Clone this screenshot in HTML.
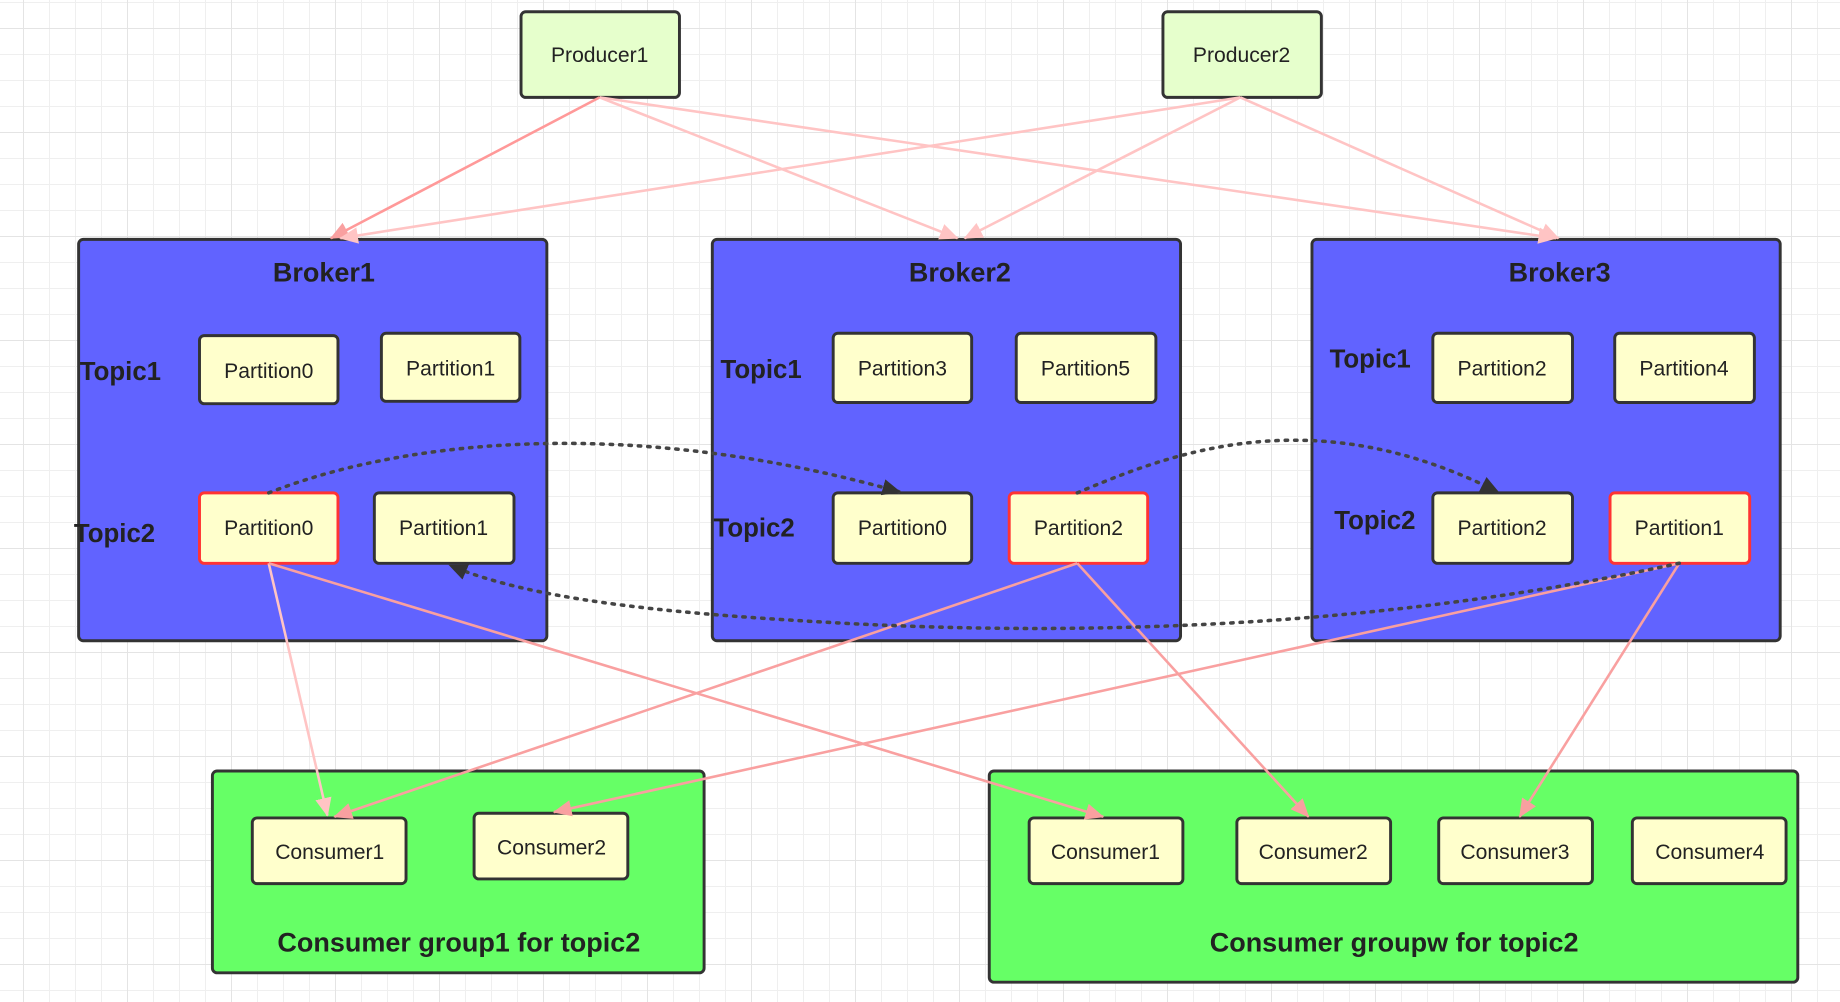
<!DOCTYPE html>
<html><head><meta charset="utf-8"><style>
html,body{margin:0;padding:0;background:#fff;}
svg{display:block;}
text{font-family:"Liberation Sans",sans-serif;fill:#222;}
</style></head><body>
<svg width="1840" height="1002" viewBox="0 0 1840 1002" xmlns="http://www.w3.org/2000/svg">
<defs>
<pattern id="g" x="23" y="2" width="26" height="26" patternUnits="userSpaceOnUse">
<path d="M0 0H26M0 0V26" stroke="#efefef" stroke-width="2" fill="none"/>
</pattern>
<pattern id="G" x="23" y="28" width="104" height="104" patternUnits="userSpaceOnUse">
<path d="M0 0H104M0 0V104" stroke="#e4e4e4" stroke-width="2" fill="none"/>
</pattern>
<marker id="ap" markerWidth="16" markerHeight="14" refX="15" refY="7" orient="auto" markerUnits="userSpaceOnUse" viewBox="0 0 16 14"><path d="M0 0L16 7L0 14z" fill="#f9a0a0"/></marker>
<marker id="al" markerWidth="16" markerHeight="14" refX="15" refY="7" orient="auto" markerUnits="userSpaceOnUse" viewBox="0 0 16 14"><path d="M0 0L16 7L0 14z" fill="#ffc4c4"/></marker>
<marker id="ad" markerWidth="16" markerHeight="14" refX="14" refY="7" orient="auto" markerUnits="userSpaceOnUse" viewBox="0 0 16 14"><path d="M0 0L16 7L0 14z" fill="#333"/></marker>
</defs>
<rect width="1840" height="1002" fill="#fff"/>
<rect width="1840" height="1002" fill="url(#g)"/>
<rect width="1840" height="1002" fill="url(#G)"/>
<g transform="scale(1.1735)">
<g stroke="#333" stroke-width="2.5">
<rect x="444" y="10" width="135" height="73" rx="4" fill="#e6ffcc"/>
<rect x="991" y="10" width="135" height="73" rx="4" fill="#e6ffcc"/>
<rect x="67" y="204" width="399" height="342" rx="4" fill="#6163ff"/>
<rect x="607" y="204" width="399" height="342" rx="4" fill="#6163ff"/>
<rect x="1118" y="204" width="399" height="342" rx="4" fill="#6163ff"/>
<rect x="181" y="657" width="419" height="172" rx="4" fill="#66ff66"/>
<rect x="843" y="657" width="689" height="180" rx="4" fill="#66ff66"/>
</g>
<g font-size="18" text-anchor="middle">
<text x="511" y="53">Producer1</text>
<text x="1058" y="53">Producer2</text>
</g>
<g font-size="23" font-weight="bold" text-anchor="middle">
<text x="276" y="240">Broker1</text>
<text x="818" y="240">Broker2</text>
<text x="1329" y="240">Broker3</text>
<text x="391" y="811">Consumer group1 for topic2</text>
<text x="1188" y="811">Consumer groupw for topic2</text>
</g>
<g font-size="22" font-weight="bold">
<text x="68" y="324">Topic1</text>
<text x="63" y="462">Topic2</text>
<text x="614" y="322">Topic1</text>
<text x="608" y="457">Topic2</text>
<text x="1133" y="313">Topic1</text>
<text x="1137" y="451">Topic2</text>
</g>
<g stroke="#333" stroke-width="2.5" fill="#ffffcc">
<rect x="170" y="286" width="118" height="58" rx="4"/>
<rect x="325" y="284" width="118" height="58" rx="4"/>
<rect x="319" y="420" width="119" height="60" rx="4"/>
<rect x="710" y="284" width="118" height="59" rx="4"/>
<rect x="866" y="284" width="119" height="59" rx="4"/>
<rect x="710" y="420" width="118" height="60" rx="4"/>
<rect x="1221" y="284" width="119" height="59" rx="4"/>
<rect x="1376" y="284" width="119" height="59" rx="4"/>
<rect x="1221" y="420" width="119" height="60" rx="4"/>
<rect x="215" y="697" width="131" height="56" rx="4"/>
<rect x="404" y="693" width="131" height="56" rx="4"/>
<rect x="877" y="697" width="131" height="56" rx="4"/>
<rect x="1054" y="697" width="131" height="56" rx="4"/>
<rect x="1226" y="697" width="131" height="56" rx="4"/>
<rect x="1391" y="697" width="131" height="56" rx="4"/>
</g>
<g stroke="#ff3333" stroke-width="2.5" fill="#ffffcc">
<rect x="170" y="420" width="118" height="60" rx="4"/>
<rect x="860" y="420" width="118" height="60" rx="4"/>
<rect x="1372" y="420" width="119" height="60" rx="4"/>
</g>
<g font-size="18" text-anchor="middle">
<text x="229" y="322">Partition0</text>
<text x="384" y="320">Partition1</text>
<text x="229" y="456">Partition0</text>
<text x="378" y="456">Partition1</text>
<text x="769" y="320">Partition3</text>
<text x="925" y="320">Partition5</text>
<text x="769" y="456">Partition0</text>
<text x="919" y="456">Partition2</text>
<text x="1280" y="320">Partition2</text>
<text x="1435" y="320">Partition4</text>
<text x="1280" y="456">Partition2</text>
<text x="1431" y="456">Partition1</text>
<text x="281" y="732">Consumer1</text>
<text x="470" y="728">Consumer2</text>
<text x="942" y="732">Consumer1</text>
<text x="1119" y="732">Consumer2</text>
<text x="1291" y="732">Consumer3</text>
<text x="1457" y="732">Consumer4</text>
</g>
<g fill="none" stroke-width="2.2">
<line x1="511" y1="83" x2="282" y2="203" stroke="#f99" marker-end="url(#ap)"/>
<line x1="511" y1="83" x2="816" y2="203" stroke="#ffc4c4" marker-end="url(#al)"/>
<line x1="511" y1="83" x2="1326" y2="203" stroke="#ffc4c4" marker-end="url(#al)"/>
<line x1="1057" y1="83" x2="290" y2="203" stroke="#ffc4c4" marker-end="url(#al)"/>
<line x1="1057" y1="83" x2="822" y2="203" stroke="#ffc4c4" marker-end="url(#al)"/>
<line x1="1057" y1="83" x2="1328" y2="203" stroke="#ffc4c4" marker-end="url(#al)"/>
<line x1="229" y1="480" x2="279" y2="695" stroke="#ffc4c4" marker-end="url(#al)"/>
<line x1="229" y1="480" x2="940" y2="696" stroke="#f9a0a0" marker-end="url(#ap)"/>
<line x1="918" y1="480" x2="285" y2="696" stroke="#f9a0a0" marker-end="url(#ap)"/>
<line x1="918" y1="480" x2="1115" y2="696" stroke="#f9a0a0" marker-end="url(#ap)"/>
<line x1="1431" y1="480" x2="472" y2="692" stroke="#f9a0a0" marker-end="url(#ap)"/>
<line x1="1431" y1="480" x2="1295" y2="696" stroke="#f9a0a0" marker-end="url(#ap)"/>
<g stroke="#444" stroke-width="3" stroke-dasharray="2 6" stroke-linecap="round">
<path d="M229 420 C330 380 520 350 766 419" marker-end="url(#ad)"/>
<path d="M918 420 C1000 385 1120 340 1276 419" marker-end="url(#ad)"/>
<path d="M1431 480 C1200 530 950 545 700 530 C560 522 450 510 384 482" marker-end="url(#ad)"/>
</g>
</g>
</g>
</svg>
</body></html>
